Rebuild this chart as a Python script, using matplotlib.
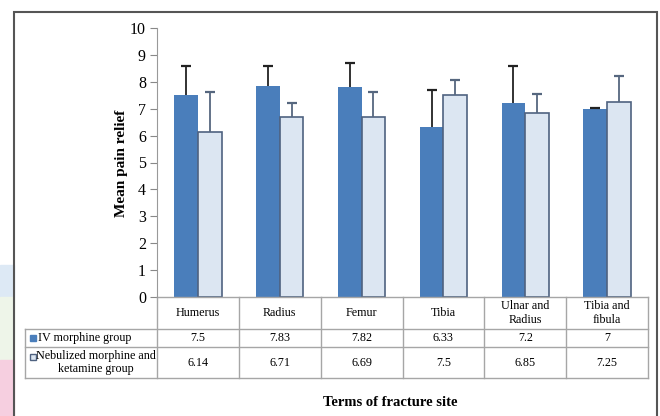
import numpy as np
import matplotlib.pyplot as plt
from matplotlib.patches import Rectangle

plt.rcParams['font.family'] = ['Liberation Serif', 'DejaVu Serif']

# data
sites = ['Humerus', 'Radius', 'Femur', 'Tibia', 'Ulnar and\nRadius', 'Tibia and\nfibula']
iv_mean = [7.5, 7.83, 7.82, 6.33, 7.2, 7]
neb_mean = [6.14, 6.71, 6.69, 7.5, 6.85, 7.25]
iv_err = [1.07, 0.76, 0.88, 1.37, 1.4, 0.04]
neb_err = [1.47, 0.49, 0.94, 0.56, 0.70, 0.97]
iv_label = 'IV morphine group'
neb_label = 'Nebulized morphine and\nketamine group'

W, H = 660, 416
fig = plt.figure(figsize=(6.6, 4.16), dpi=100)

# pastel strips on the left edge and outer frame
for y0, y1, c in [(265, 297, '#dde9f5'), (297, 360, '#eef5e9'), (360, 416, '#f6cfe0')]:
    fig.patches.append(Rectangle((0, 1 - y1 / H), 14 / W, (y1 - y0) / H,
                                 transform=fig.transFigure, color=c, zorder=0))
fig.patches.append(Rectangle((14 / W, -0.02), (657 - 14) / W, 1 - 12 / H + 0.02,
                             transform=fig.transFigure, fill=False,
                             edgecolor='#555555', lw=1.5))

ax_l, ax_r, ax_t, ax_b = 157, 648, 28, 297
ax = fig.add_axes([ax_l / W, 1 - ax_b / H, (ax_r - ax_l) / W, (ax_b - ax_t) / H])

x = np.arange(len(sites))
bw = 0.29
ax.bar(x - bw / 2, iv_mean, bw, color='#4a7ebb', zorder=2)
ax.bar(x + bw / 2, neb_mean, bw, color='#dce6f2', edgecolor='#4f6280', lw=1.2, zorder=2)

# upper-only error bars
iv_top = np.array(iv_mean) + np.array(iv_err)
neb_top = np.array(neb_mean) + np.array(neb_err)
ax.vlines(x - bw / 2, iv_mean, iv_top, color='#222222', lw=1.3, zorder=3)
ax.plot(x - bw / 2, iv_top, ls='none', marker='_', ms=7, mew=1.6, color='#222222', zorder=3)
ax.vlines(x + bw / 2, neb_mean, neb_top, color='#56677f', lw=1.3, zorder=3)
ax.plot(x + bw / 2, neb_top, ls='none', marker='_', ms=7, mew=1.6, color='#56677f', zorder=3)

ax.set_xlim(-0.5, len(sites) - 0.5)
ax.set_ylim(0, 10)
ax.set_yticks(range(0, 11))
ax.tick_params(axis='y', labelsize=11.5, length=5, color='#888888', pad=3)
ax.set_xticks([])
for s in ['top', 'right', 'bottom']:
    ax.spines[s].set_visible(False)
ax.spines['left'].set_color('#999999')

# data table below the axes (axes fraction coordinates)
ah = ax_b - ax_t
aw = ax_r - ax_l
def fy(py):
    return -(py - ax_b) / ah
def fx(px):
    return (px - ax_l) / aw

ax.set_ylabel('Mean pain relief', fontsize=11, fontweight='bold')
ax.yaxis.set_label_coords(fx(128), fy(163.5))

rows = [297, 329, 347, 378]
tl = 25
gc = '#a6a6a6'
kw = dict(transform=ax.transAxes, clip_on=False, color=gc, lw=1)
ax.plot([0, 1], [fy(rows[0])] * 2, **kw)
for r in rows[1:]:
    ax.plot([fx(tl), 1], [fy(r)] * 2, **kw)
ax.plot([fx(tl)] * 2, [fy(rows[1]), fy(rows[3])], **kw)
for i in range(len(sites) + 1):
    ax.plot([i / len(sites)] * 2, [fy(rows[0]), fy(rows[3])], **kw)

fs = 8.7
for i, s in enumerate(sites):
    cx = (i + 0.5) / len(sites)
    ax.text(cx, fy((rows[0] + rows[1]) / 2), s, transform=ax.transAxes,
            ha='center', va='center', fontsize=fs, linespacing=1.15)
    ax.text(cx, fy((rows[1] + rows[2]) / 2), f'{iv_mean[i]:g}', transform=ax.transAxes,
            ha='center', va='center', fontsize=fs)
    ax.text(cx, fy((rows[2] + rows[3]) / 2), f'{neb_mean[i]:g}', transform=ax.transAxes,
            ha='center', va='center', fontsize=fs)

# legend keys in row headers
ax.add_patch(Rectangle((fx(30), fy(341)), 6 / aw, 6 / ah, transform=ax.transAxes,
                       clip_on=False, color='#4a7ebb'))
ax.text(fx(38), fy((rows[1] + rows[2]) / 2), iv_label, transform=ax.transAxes,
        ha='left', va='center', fontsize=fs)
ax.add_patch(Rectangle((fx(30), fy(360)), 6 / aw, 6 / ah, transform=ax.transAxes,
                       clip_on=False, facecolor='#dce6f2', edgecolor='#4f6280', lw=1))
ax.text(fx(96), fy((rows[2] + rows[3]) / 2), neb_label, transform=ax.transAxes,
        ha='center', va='center', fontsize=fs, linespacing=1.1, multialignment='center')

fig.text(390 / W, 1 - 403 / H, 'Terms of fracture site', ha='center', va='center',
         fontsize=10.5, fontweight='bold')

fig.savefig('out.png', dpi=100)
